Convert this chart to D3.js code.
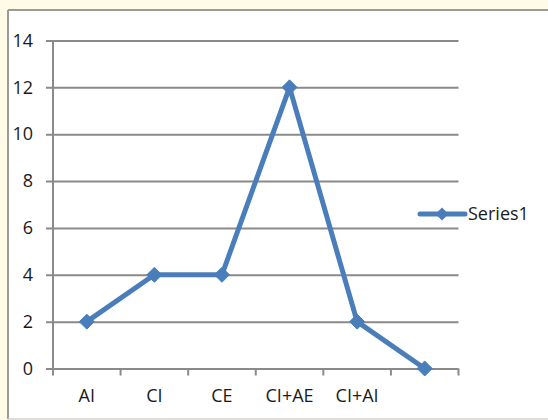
<!DOCTYPE html>
<html>
<head>
<meta charset="utf-8">
<script src="https://cdn.jsdelivr.net/npm/d3@7"></script>
<style>
  html, body { margin: 0; padding: 0; background: #fffbe6; }
  svg { display: block; }
  text { font-family: "Open Sans", "Liberation Sans", Arial, sans-serif; fill: #1a1a1a; }
</style>
</head>
<body>
<svg id="chart" width="548" height="420"></svg>
<script>
// Chart data
const categories = ["AI", "CI", "CE", "CI+AE", "CI+AI", ""];
const series1 = [2, 4, 4, 12, 2, 0];
const yTicks = [0, 2, 4, 6, 8, 10, 12, 14];
const seriesName = "Series1";

const W = 548, H = 420;
const plot = { left: 53, right: 458.5, top: 40.5, bottom: 368.5 };
const lineColor = "#4a7ebb";
const gridColor = "#8a8a8a";
const fontFamily = "Open Sans, Liberation Sans, Arial, sans-serif";
const fontSize = 18;

const svg = d3.select("#chart");

// Chart area panel
svg.append("rect")
  .attr("x", 8).attr("y", 10)
  .attr("width", W).attr("height", 409)
  .attr("fill", "#ffffff");
svg.append("line").attr("x1", 8).attr("x2", W).attr("y1", 10).attr("y2", 10)
  .attr("stroke", "#9a9a9a").attr("stroke-width", 2);
svg.append("line").attr("x1", 8).attr("x2", 8).attr("y1", 10).attr("y2", 419)
  .attr("stroke", "#9a9a9a").attr("stroke-width", 2);
svg.append("line").attr("x1", 8).attr("x2", W).attr("y1", 419).attr("y2", 419)
  .attr("stroke", "#d0d0d0").attr("stroke-width", 1.5);

const x = d3.scaleBand().domain(categories.map((c, i) => i))
  .range([plot.left, plot.right]).paddingInner(0).paddingOuter(0);
const y = d3.scaleLinear().domain([0, 14]).range([plot.bottom, plot.top]);

// Horizontal gridlines with left ticks and labels
const yAxis = d3.axisLeft(y).tickValues(yTicks).tickSize(7).tickPadding(13)
  .tickFormat(d3.format("d"));
const gy = svg.append("g").attr("transform", `translate(${plot.left},0)`).call(yAxis);
gy.attr("font-family", fontFamily).attr("font-size", fontSize);
gy.select(".domain").attr("stroke", gridColor).attr("stroke-width", 2)
  .attr("d", `M0,${plot.top}V${plot.bottom}`);
gy.selectAll(".tick line").attr("stroke", gridColor).attr("stroke-width", 2)
  .attr("x1", -7).attr("x2", plot.right - plot.left);
gy.selectAll(".tick text").attr("fill", "#1a1a1a");

// Category axis: ticks at band edges, labels centred in bands
const edges = d3.range(categories.length + 1).map(i => plot.left + i * x.step());
const gx = svg.append("g");
gx.selectAll("line.tk").data(edges).join("line")
  .attr("x1", d => d).attr("x2", d => d)
  .attr("y1", plot.bottom).attr("y2", plot.bottom + 7)
  .attr("stroke", gridColor).attr("stroke-width", 2);
gx.selectAll("text").data(categories).join("text")
  .attr("x", (d, i) => x(i) + x.bandwidth() / 2)
  .attr("y", 401.5)
  .attr("text-anchor", "middle")
  .attr("font-size", fontSize)
  .text(d => d);

// Series line
const pts = series1.map((v, i) => [x(i) + x.bandwidth() / 2, y(v)]);
svg.append("path")
  .attr("d", d3.line()(pts))
  .attr("fill", "none").attr("stroke", lineColor)
  .attr("stroke-width", 5).attr("stroke-linejoin", "round");

const diamond = r => `M0,${-r}L${r},0L0,${r}L${-r},0Z`;
svg.selectAll("path.mk").data(pts).join("path")
  .attr("class", "mk")
  .attr("transform", d => `translate(${d[0]},${d[1]})`)
  .attr("d", diamond(7.5))
  .attr("fill", lineColor).attr("stroke", lineColor).attr("stroke-width", 1);

// Legend
const lg = svg.append("g").attr("transform", "translate(420,214)");
lg.append("line").attr("x1", 0).attr("x2", 45).attr("y1", 0).attr("y2", 0)
  .attr("stroke", lineColor).attr("stroke-width", 5).attr("stroke-linecap", "round");
lg.append("path").attr("transform", "translate(22,0)").attr("d", diamond(6.5))
  .attr("fill", lineColor);
lg.append("text").attr("x", 48).attr("y", 0).attr("dy", "0.35em")
  .attr("font-size", fontSize).text(seriesName);
</script>
</body>
</html>
